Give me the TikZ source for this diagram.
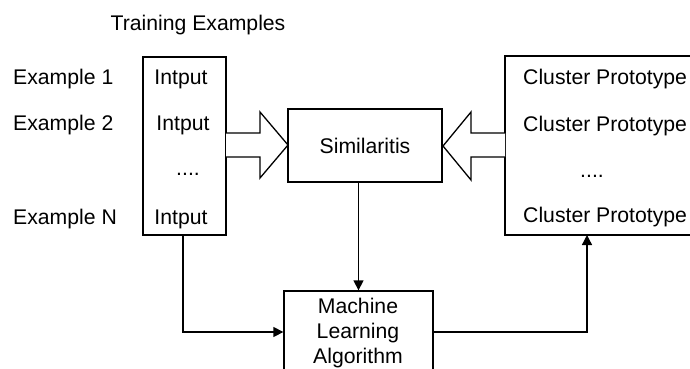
\documentclass[tikz,border=0pt]{standalone}
\usepackage{fontspec}
\setmainfont{Liberation Sans}
\usetikzlibrary{arrows.meta}
\tikzset{
  box/.style={draw, line width=1.3pt, inner sep=0pt, anchor=center},
  lbl/.style={inner sep=0pt, font=\fontsize{21.2}{25}\selectfont},
  flow/.style={line width=1.3pt, -{Triangle[length=10pt,width=10pt]}},
  fat/.style={draw, line width=1.3pt, fill=white, line join=miter}
}
\begin{document}
\begin{tikzpicture}[x=1pt, y=-1pt]
  \clip (0,0) rectangle (690,369);
  \fill[white] (0,0) rectangle (690,369);

  % boxes
  \node[box, minimum width=83pt, minimum height=178pt] (in) at (184.5,146) {};
  \node[box, minimum width=154pt, minimum height=73pt] (sim) at (365,145.5) {};
  \node[box, minimum width=220pt, minimum height=179pt] (cl) at (615,145.5) {};
  \node[box, minimum width=149pt, minimum height=82pt] (ml) at (358.5,332) {};

  % block arrows into the similarity box
  \draw[fat] (226,133) -- (260,133) -- (260,112) -- (288,145) -- (260,178) -- (260,157) -- (226,157);
  \draw[fat] (505,133) -- (471,133) -- (471,112) -- (443,146) -- (471,180) -- (471,157) -- (505,157);

  % connectors
  \coordinate (inx) at (183,235);
  \coordinate (clx) at (587,235);
  \draw[flow] (sim.south -| ml.north) -- (ml.north);
  \draw[flow] (inx) |- (ml.west);
  \draw[flow] (ml.east) -| (clx);

  % labels
  \node[lbl, anchor=base] (title) at (198,31) {Training Examples};
  \node[lbl, anchor=base west] (ex1) at (13,84) {Example 1};
  \node[lbl, anchor=base west] (ex2) at (13,130) {Example 2};
  \node[lbl, anchor=base west] (exn) at (13,224) {Example N};
  \node[lbl, anchor=base] (in1) at (181,84) {Intput};
  \node[lbl, anchor=base] (in2) at (183,130) {Intput};
  \node[lbl, anchor=base] (ind) at (188,175) {....};
  \node[lbl, anchor=base] (inn) at (181,224) {Intput};
  \node[lbl, anchor=base] (simt) at (365,153) {Similaritis};
  \node[lbl, anchor=base west] (cp1) at (523,84) {Cluster Prototype};
  \node[lbl, anchor=base west] (cp2) at (523,131) {Cluster Prototype};
  \node[lbl, anchor=base] (cpd) at (592,177) {....};
  \node[lbl, anchor=base west] (cpn) at (523,222) {Cluster Prototype};
  \node[lbl, anchor=base] (ml1) at (358,313) {Machine};
  \node[lbl, anchor=base] (ml2) at (358,338) {Learning};
  \node[lbl, anchor=base] (ml3) at (358,363) {Algorithm};
\end{tikzpicture}
\end{document}
